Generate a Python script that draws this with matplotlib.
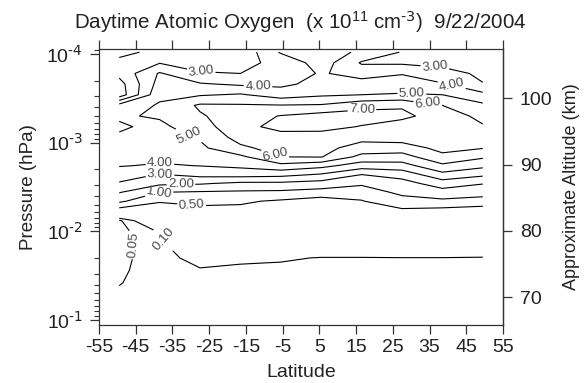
import numpy as np
import matplotlib
matplotlib.use("Agg")
import matplotlib.pyplot as plt
from matplotlib.ticker import FixedLocator, FixedFormatter

plt.rcParams['font.family'] = ['Liberation Sans', 'DejaVu Sans']
plt.rcParams['mathtext.default'] = 'regular'

# Latitude bins (deg) and log10 pressure levels (hPa)
latitudes = [-49.5, -38.5, -27.5, -16.5, -5.5, 5.5, 16.5, 27.5, 38.5, 49.5]
log_pressure = [-4.02, -3.90, -3.78, -3.66, -3.54, -3.42, -3.30, -3.18, -3.06,
                -2.94, -2.84, -2.74, -2.64, -2.54, -2.44, -2.34, -2.24, -2.12,
                -1.98, -1.84, -1.70, -1.56, -1.42, -1.28, -1.14]

# Daytime atomic oxygen density (x 1e11 cm^-3), one row per pressure level
oxygen = [
    [3.20, 2.80, 2.50, 2.26, 4.11, 4.85, 3.70, 2.95, 2.70, 2.60],
    [2.80, 2.95, 2.75, 2.80, 3.20, 4.50, 2.90, 2.85, 2.85, 2.75],
    [2.30, 4.10, 3.05, 3.00, 3.40, 4.10, 3.60, 3.95, 3.20, 2.90],
    [1.60, 4.40, 4.10, 3.85, 3.80, 4.30, 4.40, 4.40, 4.10, 3.02],
    [1.40, 4.80, 4.90, 5.10, 4.50, 4.85, 5.00, 5.10, 5.00, 4.30],
    [4.40, 5.10, 6.15, 6.10, 6.05, 6.10, 6.70, 6.90, 6.00, 5.20],
    [4.90, 5.10, 5.90, 6.50, 7.05, 7.40, 7.40, 7.20, 6.60, 5.70],
    [5.10, 4.80, 5.50, 6.80, 7.20, 7.30, 6.95, 6.60, 6.70, 6.10],
    [4.90, 4.60, 5.10, 6.40, 6.75, 6.60, 6.30, 6.50, 6.50, 6.30],
    [4.60, 4.40, 4.80, 5.80, 6.40, 6.30, 5.60, 5.50, 6.30, 6.05],
    [4.40, 4.25, 4.50, 4.80, 6.00, 6.05, 4.70, 4.60, 5.75, 5.15],
    [4.05, 3.90, 4.02, 4.20, 4.70, 4.30, 3.50, 3.60, 4.80, 4.25],
    [3.50, 2.95, 3.30, 3.40, 3.30, 2.90, 2.00, 2.40, 3.70, 3.20],
    [2.90, 2.20, 2.10, 1.80, 1.80, 1.60, 1.10, 1.60, 2.50, 2.05],
    [2.05, 1.00, 0.90, 0.85, 0.80, 0.60, 0.65, 1.15, 1.60, 1.30],
    [1.10, 0.52, 0.60, 0.55, 0.45, 0.42, 0.48, 0.75, 0.80, 0.70],
    [0.30, 0.38, 0.40, 0.42, 0.38, 0.35, 0.38, 0.45, 0.40, 0.35],
    [0.040, 0.20, 0.28, 0.30, 0.28, 0.26, 0.27, 0.30, 0.28, 0.25],
    [0.030, 0.098, 0.20, 0.21, 0.20, 0.19, 0.19, 0.20, 0.19, 0.18],
    [0.030, 0.085, 0.16, 0.16, 0.14, 0.14, 0.14, 0.14, 0.14, 0.13],
    [0.035, 0.080, 0.12, 0.11, 0.105, 0.098, 0.098, 0.099, 0.099, 0.098],
    [0.040, 0.080, 0.095, 0.090, 0.090, 0.090, 0.090, 0.090, 0.090, 0.090],
    [0.047, 0.080, 0.085, 0.085, 0.085, 0.085, 0.085, 0.085, 0.085, 0.085],
    [0.060, 0.080, 0.080, 0.080, 0.080, 0.080, 0.080, 0.080, 0.080, 0.080],
    [0.070, 0.080, 0.080, 0.080, 0.080, 0.080, 0.080, 0.080, 0.080, 0.080],
]

levels = [0.05, 0.10, 0.50, 1.00, 2.00, 3.00, 4.00, 5.00, 6.00, 7.00]

# where each contour label sits (latitude, log10 pressure)
label_spots = [
    (-27.2, -3.80), (-11.7, -3.65), (-30.2, -3.11), (-7.1, -2.86),
    (16.6, -3.37), (30.2, -3.59), (34.6, -3.47), (36.5, -3.88),
    (41.1, -3.66), (-38.4, -2.78), (-38.4, -2.66), (-32.7, -2.55),
    (-38.7, -2.44), (-29.7, -2.33), (-37.8, -1.90), (-45.7, -1.85),
]

x_ticks = list(range(-55, 56, 10))
alt_ticks = [70, 80, 90, 100]


def to_alt(y):
    return 85.0 - 13.37 * (np.asarray(y) + 2.3795)


def to_logp(a):
    return -(np.asarray(a) - 85.0) / 13.37 - 2.3795


fig = plt.figure(figsize=(5.87, 3.83), dpi=100)
ax = fig.add_axes([0.1687, 0.1514, 0.6882, 0.7207])

cs = ax.contour(latitudes, log_pressure, np.array(oxygen), levels=levels,
                colors='black', linewidths=0.8)
ax.clabel(cs, fmt='%.2f', fontsize=9.6, colors='#4a4a4a', inline=True,
          inline_spacing=3, manual=label_spots)

ax.set_xlim(-55, 55)
ax.set_ylim(-0.944, -4.056)

ax.set_xticks(x_ticks)
ax.set_xticklabels([str(t) for t in x_ticks])
major_y = [-4, -3, -2, -1]
ax.yaxis.set_major_locator(FixedLocator(major_y))
ax.yaxis.set_major_formatter(
    FixedFormatter([r'$10^{\text{-%d}}$' % -m for m in major_y]))
minor_y = [np.log10(k) + e for e in (-5, -4, -3, -2) for k in range(2, 10)]
minor_y = [m for m in minor_y if -4.056 < m < -0.944]
ax.yaxis.set_minor_locator(FixedLocator(minor_y))

ax.tick_params(axis='both', which='major', direction='out', length=6.5,
               width=0.9, labelsize=14, color='#333333', labelcolor='#222222')
ax.tick_params(axis='y', which='minor', direction='out', length=3.6, width=0.8,
               color='#333333')
ax.tick_params(axis='x', top=True, pad=3.5)
ax.tick_params(axis='y', pad=5)
for s in ax.spines.values():
    s.set_linewidth(0.9)
    s.set_color('#333333')

sec = ax.secondary_yaxis('right', functions=(to_alt, to_logp))
sec.set_yticks(alt_ticks)
sec.tick_params(direction='out', length=6.5, width=0.9, labelsize=14,
                color='#333333', labelcolor='#222222', pad=5.5)
sec.spines['right'].set_linewidth(0.9)
sec.spines['right'].set_color('#333333')

fig.text(0.511, 0.945, r'Daytime Atomic Oxygen  (x 10$^{11}$ cm$^{\text{-3}}$)  9/22/2004',
         ha='center', va='center', fontsize=14.8, color='#222222')
fig.text(0.048, 0.512, 'Pressure (hPa)', rotation=90, ha='center', va='center',
         fontsize=13.5, color='#222222')
fig.text(0.973, 0.512, 'Approximate Altitude (km)', rotation=90, ha='center',
         va='center', fontsize=13, color='#222222')
fig.text(0.513, 0.027, 'Latitude', ha='center', va='center', fontsize=14,
         color='#222222')

fig.savefig('out.png', dpi=100)
